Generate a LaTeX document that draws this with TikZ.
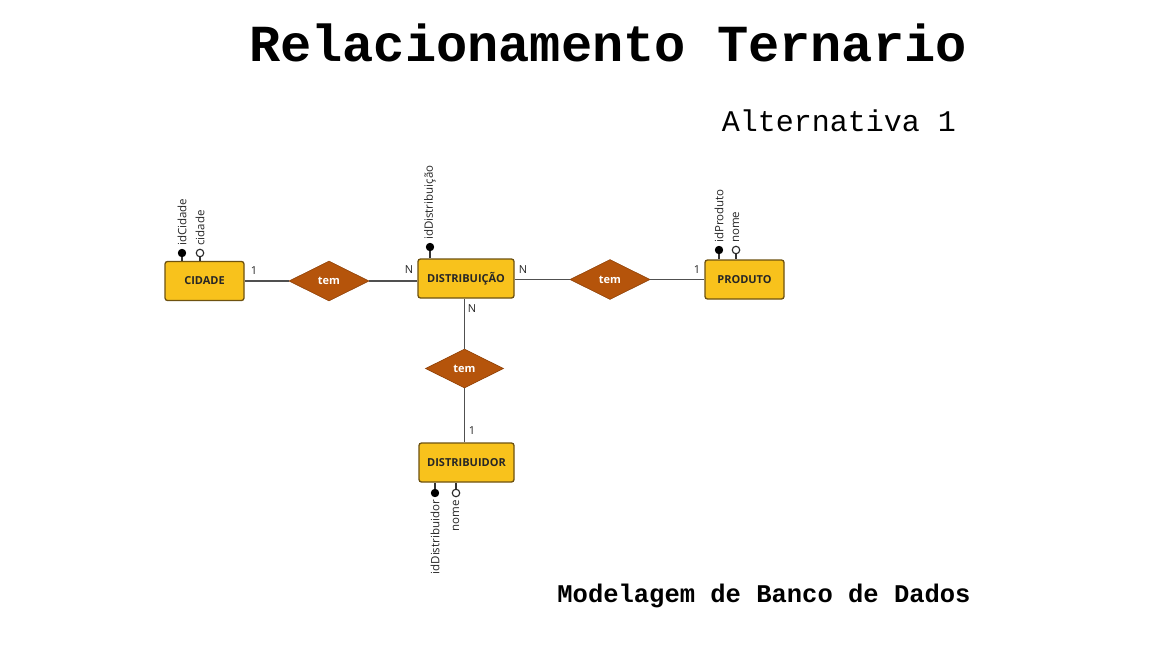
\documentclass[tikz,border=0pt]{standalone}
\usepackage{fontspec}
\usetikzlibrary{shapes.geometric}
\newfontfamily\typew{Liberation Mono}
\newfontfamily\erfont{Open Sans}
\definecolor{entfill}{HTML}{F8C21C}
\definecolor{entdraw}{HTML}{6E5210}
\definecolor{relfill}{HTML}{B5540B}
\definecolor{linegray}{HTML}{505050}
\tikzset{
  entity/.style={draw=entdraw, fill=entfill, line width=1.3pt, rounded corners=2.5pt,
    minimum width=79pt, minimum height=39pt, inner sep=0pt,
    font=\erfont\bfseries\fontsize{11}{12}\selectfont, text=black!85},
  rel/.style={diamond, draw=relfill!80!black, fill=relfill, line width=0.6pt,
    minimum width=80pt, minimum height=40pt, inner sep=0pt,
    font=\erfont\bfseries\fontsize{11}{12}\selectfont, text=white},
  conn/.style={draw=linegray, line width=1.8pt},
  card/.style={font=\erfont\fontsize{11}{12}\selectfont, text=black!85, inner sep=1pt},
  keyattr/.style={circle, draw=black, fill=black, line width=0.8pt, minimum size=7.5pt, inner sep=0pt},
  attr/.style={circle, draw=black!85, fill=white, line width=1.1pt, minimum size=7.5pt, inner sep=0pt},
  attrtext/.style={font=\erfont\fontsize{11.5}{12}\selectfont, text=black!85, inner sep=0pt, rotate=90},
  attrline/.style={draw=black!80, line width=1.1pt}
}
\begin{document}
\begin{tikzpicture}[x=1pt,y=-1pt]
\useasboundingbox[fill=white] (0,0) rectangle (1152,648);
% titles
\node[font=\typew\bfseries\fontsize{52}{60}\selectfont] (title) at (608,43) {Relacionamento Ternario};
\node[font=\typew\fontsize{30}{34}\selectfont] (alt) at (839,121) {Alternativa 1};
\node[font=\typew\bfseries\fontsize{25.5}{30}\selectfont] (footer) at (764,596) {Modelagem de Banco de Dados};
% entities
\node[entity] (cid) at (204.5,281) {CIDADE};
\node[entity, minimum width=96pt] (dis) at (466,278.5) {DISTRIBUIÇÃO};
\node[entity] (prod) at (744.5,279.5) {PRODUTO};
\node[entity, minimum width=95pt] (dor) at (466.5,462.5) {DISTRIBUIDOR};
% relationships
\node[rel] (r1) at (329,281) {tem};
\node[rel] (r2) at (610,279.5) {tem};
\node[rel, minimum width=78pt, minimum height=39pt] (r3) at (464.5,368.5) {tem};
% connectors
\draw[conn] (cid.east) -- (r1.west);
\draw[conn] (r1.east) -- (r1.east -| dis.west);
\draw[conn] (dis.east |- r2.west) -- (r2.west);
\draw[conn] (r2.east) -- (prod.west);
\draw[conn] (dis.south -| r3.north) -- (r3.north);
\draw[conn] (r3.south) -- (r3.south |- dor.north);
% cardinalities
\node[card] (c1) at (254,271) {1};
\node[card] (c2) at (409,270) {N};
\node[card] (c3) at (523,270) {N};
\node[card] (c4) at (697,270) {1};
\node[card] (c5) at (472,309) {N};
\node[card] (c6) at (472,431) {1};
% attributes CIDADE
\node[keyattr] (a1) at (182,253) {};
\node[attr] (a2) at (200,253) {};
\draw[attrline] (a1) -- (a1 |- cid.north);
\draw[attrline] (a2) -- (a2 |- cid.north);
\node[attrtext, anchor=west] (t1) at (182,246) {idCidade};
\node[attrtext, anchor=west] (t2) at (200,246) {cidade};
% attributes DISTRIBUICAO
\node[keyattr] (a3) at (430,247) {};
\draw[attrline] (a3) -- (a3 |- dis.north);
\node[attrtext, anchor=west] (t3) at (430,240) {idDistribuição};
% attributes PRODUTO
\node[keyattr] (a4) at (719,250) {};
\node[attr] (a5) at (736,250) {};
\draw[attrline] (a4) -- (a4 |- prod.north);
\draw[attrline] (a5) -- (a5 |- prod.north);
\node[attrtext, anchor=west] (t4) at (719,243) {idProduto};
\node[attrtext, anchor=west] (t5) at (736,243) {nome};
% attributes DISTRIBUIDOR
\node[keyattr] (a6) at (435,493) {};
\node[attr] (a7) at (456,493) {};
\draw[attrline] (a6) -- (a6 |- dor.south);
\draw[attrline] (a7) -- (a7 |- dor.south);
\node[attrtext, anchor=east] (t6) at (435,500) {idDistribuidor};
\node[attrtext, anchor=east] (t7) at (456,500) {nome};
\end{tikzpicture}
\end{document}
